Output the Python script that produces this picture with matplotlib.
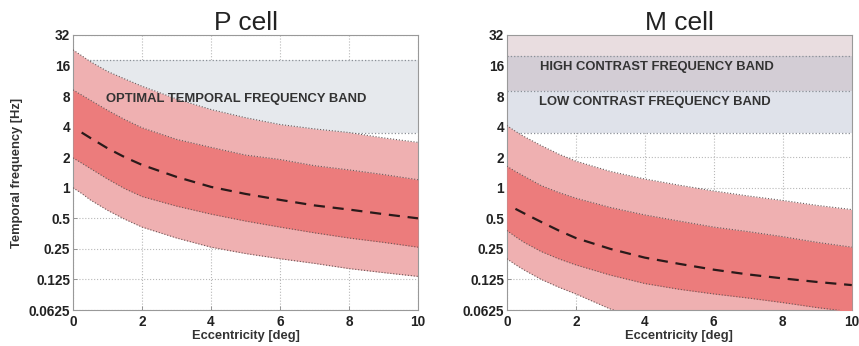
import matplotlib
matplotlib.use("Agg")
import matplotlib.pyplot as plt
import numpy as np

plt.rcParams["font.family"] = ["Liberation Sans", "DejaVu Sans"]

# eccentricity grid (deg) at which the band edges were read
ecc = [0, 0.25, 0.5, 1, 1.5, 2, 3, 4, 5, 6, 7, 8, 9, 10]

# P cell temporal frequency (Hz)
p_outer_hi = [22.8, 20, 17.5, 14, 11.8, 10, 7.5, 5.9, 4.9, 4.2, 3.8, 3.5, 3.1, 2.8]
p_inner_hi = [9.2, 8.2, 7.3, 5.8, 4.7, 3.9, 3.0, 2.5, 2.1, 1.9, 1.65, 1.5, 1.35, 1.2]
p_inner_lo = [1.97, 1.75, 1.55, 1.22, 0.98, 0.82, 0.66, 0.55, 0.47, 0.41, 0.36, 0.32, 0.29, 0.26]
p_outer_lo = [1.0, 0.88, 0.76, 0.6, 0.49, 0.41, 0.32, 0.26, 0.225, 0.2, 0.18, 0.16, 0.146, 0.134]
p_median = [np.nan, 3.5, 3.1, 2.45, 2.0, 1.68, 1.28, 1.02, 0.87, 0.76, 0.67, 0.61, 0.55, 0.5]

# M cell temporal frequency (Hz)
m_outer_hi = [4.1, 3.6, 3.2, 2.6, 2.15, 1.83, 1.45, 1.22, 1.06, 0.93, 0.83, 0.75, 0.67, 0.61]
m_inner_hi = [1.63, 1.45, 1.3, 1.05, 0.9, 0.79, 0.64, 0.54, 0.47, 0.41, 0.37, 0.33, 0.29, 0.26]
m_inner_lo = [0.38, 0.33, 0.29, 0.235, 0.2, 0.174, 0.138, 0.114, 0.1, 0.09, 0.082, 0.074, 0.066, 0.06]
m_outer_lo = [0.2, 0.175, 0.155, 0.125, 0.105, 0.09, 0.064, 0.05, 0.043, 0.037, 0.033, 0.03, 0.027, 0.025]
m_median = [np.nan, 0.62, 0.56, 0.46, 0.38, 0.32, 0.25, 0.205, 0.178, 0.156, 0.14, 0.128, 0.118, 0.11]

# reference frequency bands (Hz)
optimal_band = (3.5, 18)
high_contrast_band = (8.9, 40)
low_contrast_band = (3.5, 20)

y_ticks = [0.0625, 0.125, 0.25, 0.5, 1, 2, 4, 8, 16, 32]
y_labels = ["0.0625", "0.125", "0.25", "0.5", "1", "2", "4", "8", "16", "32"]
x_ticks = [0, 2, 4, 6, 8, 10]

OUTER = "#efb0b1"
INNER = "#ec7c7c"
EDGE = "#6a5a5a"


def draw_band(ax, lo, hi, color):
    ax.fill_between([0, 10], lo, hi, color=color, lw=0, zorder=1)
    for v in (lo, hi):
        ax.plot([0, 10], [v, v], ls=":", color="#8a8f96", lw=0.9, zorder=1.5)


def draw_cell(ax, outer_hi, inner_hi, inner_lo, outer_lo, median):
    ax.fill_between(ecc, outer_lo, outer_hi, color=OUTER, lw=0, zorder=2)
    ax.fill_between(ecc, inner_lo, inner_hi, color=INNER, lw=0, zorder=3)
    for edge in (outer_hi, inner_hi, inner_lo, outer_lo):
        ax.plot(ecc, edge, ls=":", color=EDGE, lw=0.8, zorder=4)
    ax.plot(ecc, median, ls=(0, (5, 3.5)), color="#2a1a1a", lw=1.6, zorder=5)


def style_axes(ax, title):
    ax.set_yscale("log", base=2)
    ax.set_xlim(0, 10)
    ax.set_ylim(0.0625, 32)
    ax.set_yticks(y_ticks)
    ax.set_yticklabels(y_labels)
    ax.minorticks_off()
    ax.set_xticks(x_ticks)
    ax.tick_params(direction="in", length=3, width=0.6, color="#888888",
                   labelsize=9.8, pad=2)
    ax.tick_params(axis="x", pad=3.5)
    for lab in ax.get_xticklabels() + ax.get_yticklabels():
        lab.set_fontweight("bold")
        lab.set_color("#222222")
    ax.grid(True, ls=":", color="#b8b8b8", lw=0.8, zorder=0)
    ax.set_axisbelow(True)
    for sp in ax.spines.values():
        sp.set_color("#999999")
        sp.set_linewidth(0.8)
    ax.set_title(title, fontsize=19, pad=1, color="#222222")
    ax.set_xlabel("Eccentricity [deg]", fontsize=9.3, fontweight="bold",
                  color="#333333", labelpad=1)


fig = plt.figure(figsize=(8.59, 3.46), dpi=100)
ax_p = fig.add_axes([0.085, 0.104, 0.4016, 0.795])
ax_m = fig.add_axes([0.590, 0.104, 0.4016, 0.795])

draw_band(ax_p, *optimal_band, "#e6e9ed")
draw_cell(ax_p, p_outer_hi, p_inner_hi, p_inner_lo, p_outer_lo, p_median)
ax_p.text(4.72, 7.5, "OPTIMAL TEMPORAL FREQUENCY BAND", ha="center", va="center",
          fontsize=9.4, fontweight="bold", color="#333333", zorder=6)
style_axes(ax_p, "P cell")
ax_p.set_ylabel("Temporal frequency [Hz]", fontsize=9.3, fontweight="bold",
                color="#333333", labelpad=4)

# the two contrast bands overlap between 8.9 and 20 Hz
ax_m.fill_between([0, 10], high_contrast_band[0], high_contrast_band[1],
                  color="#e9dde0", lw=0, zorder=1)
ax_m.fill_between([0, 10], low_contrast_band[0], low_contrast_band[1],
                  color="#dfe2ea", lw=0, zorder=1)
ax_m.fill_between([0, 10], high_contrast_band[0], low_contrast_band[1],
                  color="#d3cdd5", lw=0, zorder=1)
for v in (low_contrast_band[0], high_contrast_band[0], low_contrast_band[1]):
    ax_m.plot([0, 10], [v, v], ls=":", color="#8a8f96", lw=0.9, zorder=1.5)
draw_cell(ax_m, m_outer_hi, m_inner_hi, m_inner_lo, m_outer_lo, m_median)
ax_m.text(4.35, 15.5, "HIGH CONTRAST FREQUENCY BAND", ha="center", va="center",
          fontsize=9.4, fontweight="bold", color="#333333", zorder=6)
ax_m.text(4.3, 7.0, "LOW CONTRAST FREQUENCY BAND", ha="center", va="center",
          fontsize=9.4, fontweight="bold", color="#333333", zorder=6)
style_axes(ax_m, "M cell")

fig.savefig("out.png", dpi=100)
